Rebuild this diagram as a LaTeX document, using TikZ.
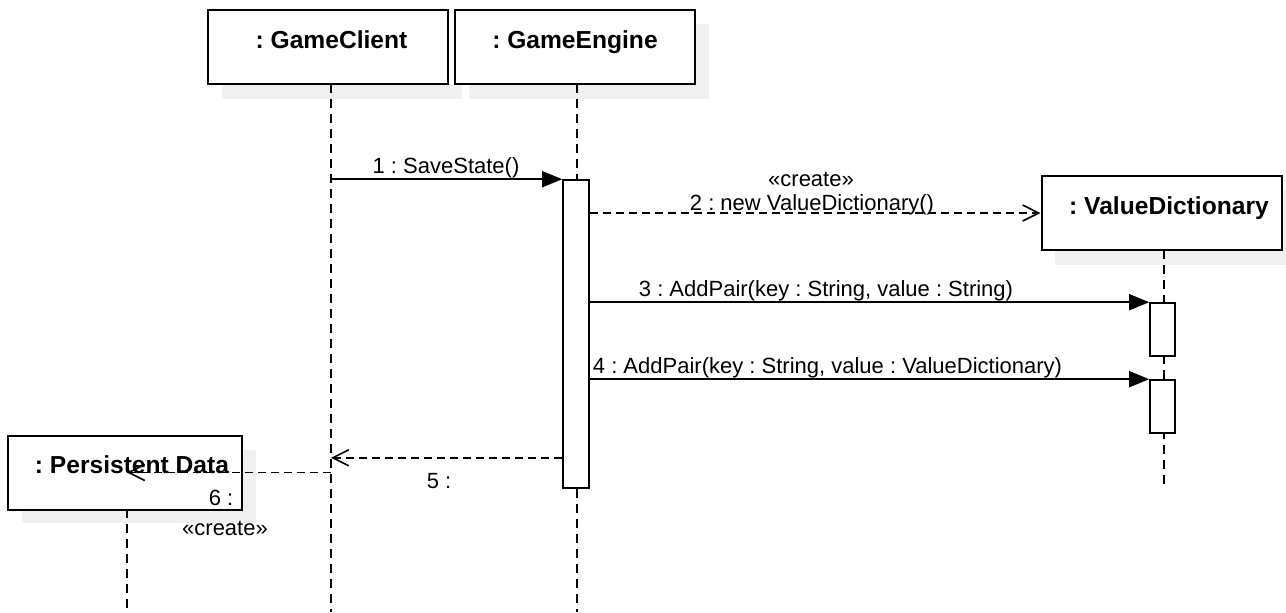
\documentclass[tikz,border=0pt]{standalone}
\usepackage{fontspec}
\setmainfont{Liberation Sans}
\usetikzlibrary{arrows.meta, calc}
\frenchspacing

\begin{document}
\begin{tikzpicture}[x=0.5pt, y=-0.5pt,
  obj/.style={draw, line width=1pt, fill=white, minimum width=120pt, minimum height=37pt, inner sep=0pt},
  title/.style={font=\fontsize{12.3}{14}\selectfont\bfseries, anchor=base, inner sep=0pt},
  act/.style={draw, line width=0.8pt, fill=white, minimum width=13pt, inner sep=0pt},
  life/.style={line width=0.8pt, dash pattern=on 4.5pt off 3pt},
  call/.style={line width=0.8pt, -{Triangle[length=10pt, width=8pt]}},
  reply/.style={line width=0.8pt, dash pattern=on 4pt off 2.5pt, -{Straight Barb[length=8pt, width=8pt]}},
  lbl/.style={font=\fontsize{11}{13}\selectfont, anchor=base, inner sep=0pt},
  shade/.style={fill=black!6}]
\useasboundingbox (0,0) rectangle (1286,612);

% Shadows
\fill[shade] (222,84) rectangle (462,99);
\fill[shade] (469,24) rectangle (709,99);
\fill[shade] (1055,190) rectangle (1286,265);
\fill[shade] (22,450) rectangle (256,523);

% Objects
\node[obj] (gc) at (328,47) {};
\node[title] (gct) at (331.5,48) {: GameClient};

\node[obj] (ge) at (575,47) {};
\node[title] (get) at (575,48) {: GameEngine};

\node[obj] (vd) at (1161.5,213) {};
\node[title] (vdt) at (1169,214) {: ValueDictionary};

\node[obj, minimum width=117pt] (pd) at (125,472.5) {};
\node[title] (pdt) at (132,473) {: Persistent Data};

% Lifelines
\coordinate (bot) at (0,612);
\coordinate (gcl) at (331,84);
\coordinate (gel) at (577,84);
\coordinate (vdl) at (1164,250);
\coordinate (vde) at (1164,488);
\coordinate (pdl) at (127,509);
\draw[life] (gcl) -- (gcl |- bot);
\draw[life] (gel) -- (gel |- bot);
\draw[life] (vdl) -- (vde);
\draw[life] (pdl) -- (pdl |- bot);

% Activations
\node[act, minimum height=154pt] (geact) at (576,334) {};
\node[act, minimum width=12.5pt, minimum height=26.5pt] (vdact1) at (1162.5,329.5) {};
\node[act, minimum width=12.5pt, minimum height=26.5pt] (vdact2) at (1162.5,406.5) {};

% Messages
\draw[call] (gcl |- geact.north) -- (geact.north west);
\draw[reply] (geact.east |- vd.west) -- (vd.west);
\draw[call] (geact.east |- vdact1.north) -- (vdact1.north west);
\draw[call] (geact.east |- vdact2.north) -- (vdact2.north west);
\coordinate (r5) at ($(geact.south west)+(0,-31)$);
\draw[reply] (r5) -- (gcl |- r5);
\draw[reply] (gcl |- pd.east) -- (pdl |- pd.east);

% Message labels
\node[lbl] (m1) at (446,173) {1 : SaveState()};
\node[lbl] (m2s) at (811,186) {«create»};
\node[lbl] (m2) at (812,210) {2 : new ValueDictionary()};
\node[lbl] (m3) at (826,296) {3 : AddPair(key : String, value : String)};
\node[lbl] (m4) at (827.5,373) {4 : AddPair(key : String, value : ValueDictionary)};
\node[lbl] (m5) at (439,488) {5 :};
\node[lbl] (m6) at (221,505) {6 :};
\node[lbl] (m6s) at (225,535) {«create»};
\end{tikzpicture}
\end{document}
